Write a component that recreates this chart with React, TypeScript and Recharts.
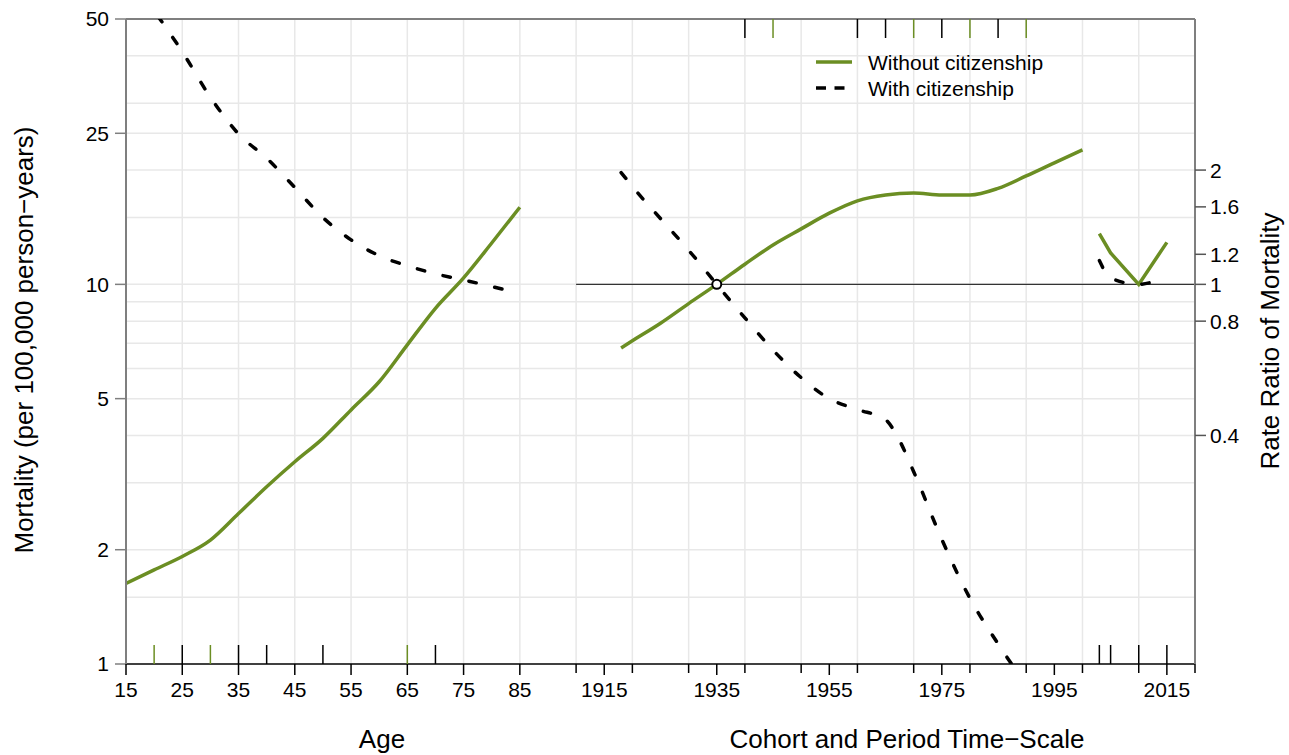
import React from "react"
import {
  ComposedChart,
  Line,
  Scatter,
  XAxis,
  YAxis,
  CartesianGrid,
  ReferenceLine,
  ReferenceDot,
  Legend,
} from "recharts"

// ---- data ----
const AGES = [15, 20, 25, 30, 35, 40, 45, 50, 55, 60, 65, 70, 75, 80, 85]
const AGE_WITHOUT = [1.63, 1.77, 1.92, 2.12, 2.49, 2.93, 3.41, 3.93, 4.67, 5.54, 6.93, 8.65, 10.4, 12.85, 15.96]
const AGE_WITH = [66, 52.5, 41.0, 31.1, 24.9, 21.5, 18.0, 15.0, 13.1, 11.9, 11.2, 10.66, 10.27, 9.87, 9.45]

const COHORTS = [1918, 1920, 1925, 1930, 1935, 1940, 1945, 1950, 1955, 1960, 1965, 1970, 1975, 1980, 1985, 1990, 1995, 2000]
const COHORT_WITHOUT = [0.68, 0.71, 0.79, 0.89, 1.0, 1.13, 1.27, 1.4, 1.54, 1.66, 1.72, 1.74, 1.72, 1.72, 1.79, 1.93, 2.09, 2.26]
const COHORTS_WITH = [1918, 1920, 1925, 1930, 1935, 1940, 1945, 1950, 1955, 1960, 1965, 1967, 1970, 1975, 1980, 1985, 1990]
const COHORT_WITH = [1.97, 1.81, 1.49, 1.23, 1.0, 0.816, 0.671, 0.568, 0.5, 0.468, 0.44, 0.4, 0.321, 0.213, 0.149, 0.113, 0.088]

const PERIODS = [2003, 2005, 2010, 2015]
const PERIOD_WITHOUT = [1.36, 1.21, 1.0, 1.29]
const PERIOD_WITH = [1.155, 1.04, 1.0, 1.05]

// spline knots (rug marks)
const AGE_KNOTS_BLACK = [25, 35, 40, 50, 70]
const AGE_KNOTS_GREEN = [20, 30, 65]
const COHORT_KNOTS_BLACK = [1940, 1960, 1965, 1975, 1985]
const COHORT_KNOTS_GREEN = [1945, 1970, 1980, 1990]
const PERIOD_KNOTS = [2003, 2005, 2010, 2015]

const AGE_TICKS = [15, 25, 35, 45, 55, 65, 75, 85]
const YEAR_TICKS = [1915, 1935, 1955, 1975, 1995, 2015]
const YEAR_MINOR = [1910, 1920, 1930, 1940, 1950, 1960, 1970, 1980, 1990, 2000, 2010, 2020]
const MORT_TICKS = [1, 2, 5, 10, 25, 50]
const RR_TICKS = [0.4, 0.8, 1, 1.2, 1.6, 2]
const MORT_GRID = [1.5, 2, 3, 4, 5, 6, 7, 8, 9, 10, 15, 20, 25, 30, 40]
const AGE_GRID = [25, 35, 45, 55, 65, 75, 85]
const YEAR_GRID = [1910, 1920, 1930, 1940, 1950, 1960, 1970, 1980, 1990, 2000, 2010]

const SERIES = ["Without citizenship", "With citizenship"]

// calendar time shares the age axis, shifted right of the age panel
const YEAR_SHIFT = 1815
const toU = (year: number) => year - YEAR_SHIFT

const GREEN = "#6B8E23"
const FONT = "'Liberation Sans', Arial, sans-serif"
const DASH = "7.5 19"

const rows = (xs: number[], vs: number[], shift = 0) => xs.map((x, i) => ({ u: x - shift, v: vs[i] }))
const knotRows = (xs: number[], v: number, shift = 0) => xs.map((x) => ({ u: x - shift, v }))

const labeled = new Set([...AGE_TICKS, ...YEAR_TICKS.map(toU)])
const allTicks = [...AGE_TICKS, ...YEAR_MINOR.map(toU), ...YEAR_TICKS.map(toU)].sort((a, b) => a - b)

function XTick(props: any) {
  const { x, y, payload } = props
  const v = payload.value
  const major = labeled.has(v)
  return (
    <g>
      <line x1={x} y1={y} x2={x} y2={y + (major ? 11 : 9)} stroke="#000" strokeWidth={1.5} />
      {major && (
        <text x={x} y={y + 33} textAnchor="middle" fontSize={21} fontFamily={FONT} fill="#000">
          {v < 90 ? v : v + YEAR_SHIFT}
        </text>
      )}
    </g>
  )
}

function rug(color: string, dir: number) {
  return (p: any) => (
    <line x1={p.cx} y1={p.cy} x2={p.cx} y2={p.cy + dir * 19} stroke={color} strokeWidth={1.5} />
  )
}

function LegendBox() {
  return (
    <svg width={260} height={60}>
      <line x1={8} y1={17} x2={44} y2={17} stroke={GREEN} strokeWidth={3.5} />
      <line x1={8} y1={43} x2={38} y2={43} stroke="#000" strokeWidth={3.5} strokeDasharray="10 8.5" />
      <text x={60} y={24.5} fontSize={21} fontFamily={FONT} fill="#000">{SERIES[0]}</text>
      <text x={60} y={50.5} fontSize={21} fontFamily={FONT} fill="#000">{SERIES[1]}</text>
    </svg>
  )
}

export default function App() {
  return (
    <div style={{ position: "absolute", left: 0, top: 0, width: 1289, height: 755, background: "#fff" }}>
      <ComposedChart width={1289} height={755} margin={{ top: 19, right: 34, bottom: 51, left: 66 }}>
        <CartesianGrid
          yAxisId="mort"
          stroke="#e8e8e8"
          strokeWidth={1.5}
          horizontalValues={MORT_GRID}
          verticalValues={[...AGE_GRID, ...YEAR_GRID.map(toU)]}
        />
        <XAxis
          type="number"
          dataKey="u"
          domain={[15, 205]}
          allowDataOverflow
          ticks={allTicks}
          interval={0}
          height={40}
          tickSize={0}
          tickMargin={0}
          tickLine={false}
          tick={<XTick />}
          axisLine={{ stroke: "#000", strokeWidth: 1.5 }}
        />
        <YAxis
          yAxisId="mort"
          dataKey="v"
          scale="log"
          domain={[1, 50]}
          allowDataOverflow
          ticks={MORT_TICKS}
          interval={0}
          width={60}
          tickSize={11}
          tickMargin={6}
          axisLine={{ stroke: "#7f7f7f", strokeWidth: 2 }}
          tickLine={{ stroke: "#7f7f7f", strokeWidth: 1.5 }}
          tick={{ fontSize: 21, fontFamily: FONT, fill: "#000" }}
        />
        <YAxis
          yAxisId="rr"
          orientation="right"
          dataKey="v"
          scale="log"
          domain={[0.1, 5]}
          allowDataOverflow
          ticks={RR_TICKS}
          interval={0}
          width={60}
          tickSize={11}
          tickMargin={4}
          axisLine={{ stroke: "#7f7f7f", strokeWidth: 2 }}
          tickLine={{ stroke: "#555", strokeWidth: 1.5 }}
          tick={{ fontSize: 21, fontFamily: FONT, fill: "#000" }}
        />
        <ReferenceLine yAxisId="mort" y={50} stroke="#7f7f7f" strokeWidth={2} />
        <ReferenceLine
          yAxisId="rr"
          segment={[{ x: toU(1910), y: 1 }, { x: toU(2020), y: 1 }]}
          stroke="#333"
          strokeWidth={1.3}
        />

        <Line data={rows(AGES, AGE_WITHOUT)} yAxisId="mort" dataKey="v" type="monotone" stroke={GREEN} strokeWidth={3.5} dot={false} isAnimationActive={false} />
        <Line data={rows(AGES, AGE_WITH)} yAxisId="mort" dataKey="v" type="monotone" stroke="#000" strokeWidth={3.5} strokeDasharray={DASH} strokeLinecap="round" dot={false} isAnimationActive={false} />
        <Line data={rows(COHORTS, COHORT_WITHOUT, YEAR_SHIFT)} yAxisId="rr" dataKey="v" type="monotone" stroke={GREEN} strokeWidth={3.5} dot={false} isAnimationActive={false} />
        <Line data={rows(COHORTS_WITH, COHORT_WITH, YEAR_SHIFT)} yAxisId="rr" dataKey="v" type="monotone" stroke="#000" strokeWidth={3.5} strokeDasharray={DASH} strokeLinecap="round" dot={false} isAnimationActive={false} />
        <Line data={rows(PERIODS, PERIOD_WITHOUT, YEAR_SHIFT)} yAxisId="rr" dataKey="v" type="linear" stroke={GREEN} strokeWidth={3.5} dot={false} isAnimationActive={false} />
        <Line data={rows(PERIODS, PERIOD_WITH, YEAR_SHIFT)} yAxisId="rr" dataKey="v" type="monotone" stroke="#000" strokeWidth={3.5} strokeDasharray={DASH} strokeLinecap="round" dot={false} isAnimationActive={false} />

        <Scatter data={knotRows(AGE_KNOTS_BLACK, 1)} yAxisId="mort" shape={rug("#000", -1)} isAnimationActive={false} />
        <Scatter data={knotRows(AGE_KNOTS_GREEN, 1)} yAxisId="mort" shape={rug(GREEN, -1)} isAnimationActive={false} />
        <Scatter data={knotRows(PERIOD_KNOTS, 1, YEAR_SHIFT)} yAxisId="mort" shape={rug("#000", -1)} isAnimationActive={false} />
        <Scatter data={knotRows(COHORT_KNOTS_BLACK, 50, YEAR_SHIFT)} yAxisId="mort" shape={rug("#000", 1)} isAnimationActive={false} />
        <Scatter data={knotRows(COHORT_KNOTS_GREEN, 50, YEAR_SHIFT)} yAxisId="mort" shape={rug(GREEN, 1)} isAnimationActive={false} />

        <ReferenceDot yAxisId="rr" x={toU(1935)} y={1} r={4.5} fill="#fff" stroke="#000" strokeWidth={2} />

        <Legend
          layout="vertical"
          align="center"
          verticalAlign="middle"
          wrapperStyle={{ left: 808, top: 45, width: 260 }}
          content={() => <LegendBox />}
        />
      </ComposedChart>
      <svg
        width={1289}
        height={755}
        style={{ position: "absolute", left: 0, top: 0, pointerEvents: "none" }}
        fontFamily={FONT}
        fontSize={26}
        fill="#000"
      >
        <text x={382} y={748} textAnchor="middle">Age</text>
        <text x={907} y={748} textAnchor="middle">Cohort and Period Time−Scale</text>
        <text x={33} y={340} textAnchor="middle" transform="rotate(-90 33 340)">
          Mortality (per 100,000 person−years)
        </text>
        <text x={1279} y={341} textAnchor="middle" transform="rotate(-90 1279 341)">
          Rate Ratio of Mortality
        </text>
      </svg>
    </div>
  )
}
